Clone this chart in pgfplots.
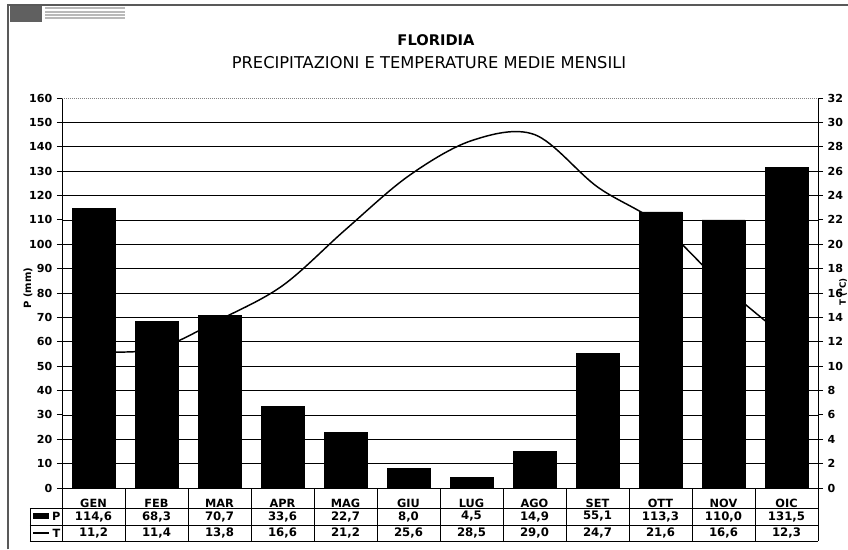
\documentclass[border=0pt]{standalone}
\usepackage{fontspec}
\setmainfont{DejaVu Sans}
\usepackage{pgfplots}
\usepackage{pgfplotstable}
\pgfplotsset{compat=1.18}

% mesi: 1..12, P in mm, T in gradi C
\pgfplotstableread{
m P T
1 114.6 11.2
2 68.3 11.4
3 70.7 13.8
4 33.6 16.6
5 22.7 21.2
6 8.0 25.6
7 4.5 28.5
8 14.9 29.0
9 55.1 24.7
10 113.3 21.6
11 110.0 16.6
12 131.5 12.3
}\clima

\pgfplotsset{
  clima/.style={
    scale only axis, width=567pt, height=292.5pt,
    xmin=0.5, xmax=12.5, ymin=0,
    tick align=outside, major tick length=3.75pt,
    tick style={black, line width=0.6pt},
    yticklabel style={font=\fontsize{8.3}{9}\selectfont\bfseries},
    /pgf/number format/assume math mode=true,
  },
}

\begin{document}
\begin{tikzpicture}[x=1pt, y=1pt]
\begin{axis}[clima,
  ymax=160,
  axis y line*=left, axis x line*=bottom,
  axis line style={black, line width=0.6pt, -},
  ytick={0,10,...,150},
  extra y ticks={160},
  extra y tick style={grid style={densely dotted, gray}},
  ymajorgrids, grid style={black, line width=0.5pt},
  xtick={1,...,12},
  xticklabels={GEN,FEB,MAR,APR,MAG,GIU,LUG,AGO,SET,OTT,NOV,OIC},
  x tick style={draw=none},
  xticklabel style={font=\fontsize{8.5}{9}\selectfont\bfseries, anchor=center, yshift=-7.8pt},
]
\addplot[ybar, bar width=32.25pt, fill=black, draw=black] table[x=m, y=P] {\clima};
\end{axis}

\begin{axis}[clima,
  ymax=32,
  axis y line*=right, axis x line=none,
  axis line style={black, line width=0.6pt, -},
  ytick={0,2,...,32},
]
\addplot[black, line width=1.1pt, smooth, tension=0.55, mark=none] table[x=m, y=T] {\clima};
\end{axis}

% tabella sotto il grafico
\begin{scope}[line width=0.6pt]
  \draw (0,0) -- (0,-39.75);
  \draw (-24,-15) rectangle (0,-39.75);
  \draw (-24,-27.75) -- (567,-27.75);
  \draw (-24,-15) -- (567,-15);
  \draw (-24,-39.75) -- (567,-39.75);
  \foreach \k in {1,...,12} \draw (\k*47.25,0) -- (\k*47.25,-39.75);
\end{scope}
\fill[black] (-21.5,-23.5) rectangle (-10,-19);
\node[font=\fontsize{8.5}{9}\selectfont\bfseries, anchor=east, inner sep=1pt] at (0,-21.4) {P};
\draw[line width=0.8pt] (-21.5,-33.75) -- (-10,-33.75);
\node[font=\fontsize{8.5}{9}\selectfont\bfseries, anchor=east, inner sep=1pt] at (0,-33.75) {T};
\foreach \p/\t [count=\k] in {{114,6}/{11,2},{68,3}/{11,4},{70,7}/{13,8},{33,6}/{16,6},{22,7}/{21,2},{8,0}/{25,6},{4,5}/{28,5},{14,9}/{29,0},{55,1}/{24,7},{113,3}/{21,6},{110,0}/{16,6},{131,5}/{12,3}} {
  \node[font=\fontsize{8.8}{9}\selectfont\bfseries] at (\k*47.25-23.625,-21.4) {\p};
  \node[font=\fontsize{8.8}{9}\selectfont\bfseries] at (\k*47.25-23.625,-33.75) {\t};
}

% titoli ed etichette
\node[font=\fontsize{11}{12}\selectfont\bfseries] at (280.5,336) {FLORIDIA};
\node[font=\fontsize{12.2}{14}\selectfont] at (275.25,319) {PRECIPITAZIONI E TEMPERATURE MEDIE MENSILI};
\node[font=\fontsize{7.5}{8}\selectfont\bfseries, rotate=90] at (-25.5,150) {P (mm)};
\node[font=\fontsize{6.5}{7}\selectfont\bfseries, rotate=90, inner sep=0.3pt, anchor=south] at (589.2,147) {T (°C)};

% cornice e logo
\draw[gray!70!black, line width=1.1pt] (-40.5,-46) -- (-40.5,362.25) -- (590,362.25);
\fill[gray!75!black] (-39,349.5) rectangle (-15,361.5);
\foreach \yy in {359,356.5,354,351.5} \fill[gray!55] (-13,\yy) rectangle (47,\yy+1.6);

\pgfresetboundingbox
\path[use as bounding box] (-46.5,-45.75) rectangle (589.5,366);
\end{tikzpicture}
\end{document}
